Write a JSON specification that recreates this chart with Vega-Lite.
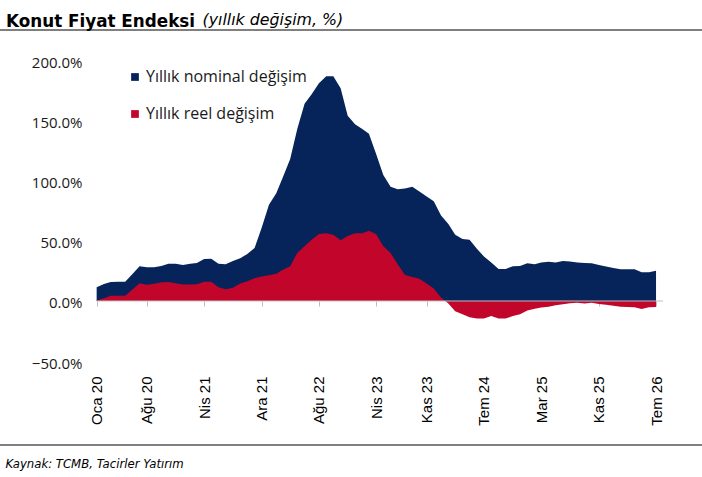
{
  "$schema": "https://vega.github.io/schema/vega-lite/v6.json",
  "width": 702,
  "height": 415,
  "autosize": {"type": "none"},
  "padding": {"left": 0, "top": 30, "right": 0, "bottom": 32},
  "background": "white",
  "title": {"text": "Konut Fiyat Endeksi", "anchor": "start", "frame": "group", "font": "DejaVu Sans", "fontSize": 16.8, "fontWeight": "bold", "color": "#000000", "dx": 6, "offset": -33, "baseline": "alphabetic"},
  "config": {"view": {"stroke": null}, "axis": {"grid": false}},
  "data": {"values": [
    {"ay": "2020-01-01", "nominal": 11.4, "reel": 0.5},
    {"ay": "2020-02-01", "nominal": 14.1, "reel": 2.3},
    {"ay": "2020-03-01", "nominal": 15.8, "reel": 4.3},
    {"ay": "2020-04-01", "nominal": 16.1, "reel": 4.3},
    {"ay": "2020-05-01", "nominal": 16.1, "reel": 4.3},
    {"ay": "2020-06-01", "nominal": 22.5, "reel": 9.5},
    {"ay": "2020-07-01", "nominal": 28.8, "reel": 14.7},
    {"ay": "2020-08-01", "nominal": 28.0, "reel": 13.5},
    {"ay": "2020-09-01", "nominal": 28.0, "reel": 14.3},
    {"ay": "2020-10-01", "nominal": 29.1, "reel": 15.5},
    {"ay": "2020-11-01", "nominal": 31.0, "reel": 15.9},
    {"ay": "2020-12-01", "nominal": 31.0, "reel": 14.8},
    {"ay": "2021-01-01", "nominal": 29.9, "reel": 13.8},
    {"ay": "2021-02-01", "nominal": 31.0, "reel": 13.8},
    {"ay": "2021-03-01", "nominal": 31.6, "reel": 14.0},
    {"ay": "2021-04-01", "nominal": 34.9, "reel": 16.1},
    {"ay": "2021-05-01", "nominal": 35.2, "reel": 16.1},
    {"ay": "2021-06-01", "nominal": 31.0, "reel": 11.5},
    {"ay": "2021-07-01", "nominal": 30.5, "reel": 9.7},
    {"ay": "2021-08-01", "nominal": 33.3, "reel": 11.0},
    {"ay": "2021-09-01", "nominal": 35.5, "reel": 14.5},
    {"ay": "2021-10-01", "nominal": 39.0, "reel": 16.5},
    {"ay": "2021-11-01", "nominal": 44.0, "reel": 19.0},
    {"ay": "2021-12-01", "nominal": 61.0, "reel": 20.3},
    {"ay": "2022-01-01", "nominal": 80.0, "reel": 21.5},
    {"ay": "2022-02-01", "nominal": 89.5, "reel": 22.7},
    {"ay": "2022-03-01", "nominal": 103.0, "reel": 26.0},
    {"ay": "2022-04-01", "nominal": 118.0, "reel": 29.0},
    {"ay": "2022-05-01", "nominal": 143.0, "reel": 40.0},
    {"ay": "2022-06-01", "nominal": 164.0, "reel": 45.5},
    {"ay": "2022-07-01", "nominal": 172.0, "reel": 51.0},
    {"ay": "2022-08-01", "nominal": 181.0, "reel": 55.7},
    {"ay": "2022-09-01", "nominal": 187.0, "reel": 56.3},
    {"ay": "2022-10-01", "nominal": 187.0, "reel": 55.0},
    {"ay": "2022-11-01", "nominal": 177.0, "reel": 50.5},
    {"ay": "2022-12-01", "nominal": 154.0, "reel": 54.0},
    {"ay": "2023-01-01", "nominal": 147.0, "reel": 56.3},
    {"ay": "2023-02-01", "nominal": 143.0, "reel": 56.3},
    {"ay": "2023-03-01", "nominal": 139.0, "reel": 58.5},
    {"ay": "2023-04-01", "nominal": 122.0, "reel": 55.5},
    {"ay": "2023-05-01", "nominal": 104.8, "reel": 45.5},
    {"ay": "2023-06-01", "nominal": 95.0, "reel": 40.0},
    {"ay": "2023-07-01", "nominal": 93.0, "reel": 30.5},
    {"ay": "2023-08-01", "nominal": 93.5, "reel": 21.6},
    {"ay": "2023-09-01", "nominal": 95.0, "reel": 20.0},
    {"ay": "2023-10-01", "nominal": 91.0, "reel": 18.5},
    {"ay": "2023-11-01", "nominal": 87.0, "reel": 14.5},
    {"ay": "2023-12-01", "nominal": 83.0, "reel": 10.3},
    {"ay": "2024-01-01", "nominal": 71.0, "reel": 3.0},
    {"ay": "2024-02-01", "nominal": 64.0, "reel": -2.0},
    {"ay": "2024-03-01", "nominal": 55.0, "reel": -8.5},
    {"ay": "2024-04-01", "nominal": 51.5, "reel": -11.0},
    {"ay": "2024-05-01", "nominal": 51.0, "reel": -13.5},
    {"ay": "2024-06-01", "nominal": 43.5, "reel": -14.5},
    {"ay": "2024-07-01", "nominal": 37.0, "reel": -14.5},
    {"ay": "2024-08-01", "nominal": 32.0, "reel": -12.5},
    {"ay": "2024-09-01", "nominal": 26.6, "reel": -14.5},
    {"ay": "2024-10-01", "nominal": 26.6, "reel": -14.5},
    {"ay": "2024-11-01", "nominal": 29.0, "reel": -12.5},
    {"ay": "2024-12-01", "nominal": 29.2, "reel": -11.0},
    {"ay": "2025-01-01", "nominal": 31.3, "reel": -8.0},
    {"ay": "2025-02-01", "nominal": 30.5, "reel": -6.5},
    {"ay": "2025-03-01", "nominal": 32.0, "reel": -5.5},
    {"ay": "2025-04-01", "nominal": 32.7, "reel": -4.7},
    {"ay": "2025-05-01", "nominal": 32.0, "reel": -3.5},
    {"ay": "2025-06-01", "nominal": 33.3, "reel": -2.8},
    {"ay": "2025-07-01", "nominal": 32.8, "reel": -1.8},
    {"ay": "2025-08-01", "nominal": 32.0, "reel": -1.4},
    {"ay": "2025-09-01", "nominal": 31.6, "reel": -2.0},
    {"ay": "2025-10-01", "nominal": 31.3, "reel": -1.4},
    {"ay": "2025-11-01", "nominal": 30.0, "reel": -2.5},
    {"ay": "2025-12-01", "nominal": 28.7, "reel": -3.2},
    {"ay": "2026-01-01", "nominal": 27.5, "reel": -4.0},
    {"ay": "2026-02-01", "nominal": 26.3, "reel": -4.7},
    {"ay": "2026-03-01", "nominal": 26.3, "reel": -5.0},
    {"ay": "2026-04-01", "nominal": 26.3, "reel": -5.3},
    {"ay": "2026-05-01", "nominal": 24.0, "reel": -6.7},
    {"ay": "2026-06-01", "nominal": 24.0, "reel": -5.2},
    {"ay": "2026-07-01", "nominal": 25.2, "reel": -5.0}
  ]},
  "layer": [
    {
      "mark": {"type": "area", "interpolate": "linear"},
      "encoding": {
        "x": {
          "field": "ay", "type": "temporal",
          "scale": {"type": "utc", "domain": [{"year": 2018, "month": 11, "date": 17, "utc": true}, {"year": 2027, "month": 1, "date": 12, "utc": true}], "nice": false},
          "axis": {
            "orient": "bottom", "offset": -144,
            "values": [
              {"year": 2020, "month": 1, "date": 1, "utc": true},
              {"year": 2020, "month": 8, "date": 1, "utc": true},
              {"year": 2021, "month": 4, "date": 1, "utc": true},
              {"year": 2021, "month": 12, "date": 1, "utc": true},
              {"year": 2022, "month": 8, "date": 1, "utc": true},
              {"year": 2023, "month": 4, "date": 1, "utc": true},
              {"year": 2023, "month": 11, "date": 1, "utc": true},
              {"year": 2024, "month": 7, "date": 1, "utc": true},
              {"year": 2025, "month": 3, "date": 1, "utc": true},
              {"year": 2025, "month": 11, "date": 1, "utc": true},
              {"year": 2026, "month": 7, "date": 1, "utc": true}
            ],
            "labelExpr": "['Oca','Şub','Mar','Nis','May','Haz','Tem','Ağu','Eyl','Eki','Kas','Ara'][utcmonth(datum.value)] + ' ' + utcFormat(datum.value, '%y')",
            "labelAngle": 270, "labelAlign": "right", "labelBaseline": "middle",
            "labelPadding": 70, "labelFont": "Liberation Sans", "labelFontSize": 15, "labelColor": "#000000",
            "labelFlush": false, "labelOverlap": false, "labelBound": false,
            "domain": false, "ticks": true, "tickColor": "#BFBFBF", "tickSize": 5, "tickWidth": 1, "grid": false,
            "title": "Kaynak: TCMB, Tacirler Yatırım", "titleX": 5, "titleY": 162, "titleAnchor": "start", "titleAlign": "left", "titleBaseline": "middle",
            "titleFont": "DejaVu Sans", "titleFontSize": 11.7, "titleFontStyle": "italic", "titleFontWeight": "normal", "titleColor": "#000000"
          }
        },
        "y": {
          "field": "nominal", "type": "quantitative", "stack": null,
          "scale": {"domain": [-119.75, 225.36], "nice": false},
          "axis": {
            "orient": "left", "offset": -96, "values": [-50, 0, 50, 100, 150, 200],
            "labelExpr": "format(datum.value, '.1f') + '%'",
            "domain": false, "ticks": false, "tickSize": 0, "grid": false,
            "labelPadding": 14, "labelFont": "Open Sans", "labelFontSize": 15, "labelColor": "#1a1a1a", "labelOffset": 2,
            "title": "(yıllık değişim, %)", "titleAngle": 0, "titleX": 106, "titleY": -6, "titleAlign": "left", "titleBaseline": "alphabetic",
            "titleFont": "DejaVu Sans", "titleFontSize": 15.8, "titleFontStyle": "italic", "titleFontWeight": "normal", "titleColor": "#000000"
          }
        },
        "color": {
          "datum": "Yıllık nominal değişim",
          "scale": {"domain": ["Yıllık nominal değişim", "Yıllık reel değişim"], "range": ["#062459", "#C1052B"]},
          "legend": {
            "orient": "none", "legendX": 127, "legendY": 39, "direction": "vertical", "title": null,
            "symbolType": "square", "symbolSize": 60, "symbolStrokeWidth": 0, "padding": 0,
            "labelFont": "Open Sans", "labelFontSize": 16, "labelColor": "#1a1a1a", "labelOffset": 3, "labelLimit": 400, "rowPadding": 21
          }
        }
      }
    },
    {
      "mark": {"type": "area", "interpolate": "linear"},
      "encoding": {
        "x": {"field": "ay", "type": "temporal"},
        "y": {"field": "reel", "type": "quantitative", "stack": null},
        "color": {"datum": "Yıllık reel değişim"}
      }
    },
    {
      "data": {"values": [{}]},
      "mark": {"type": "rule", "color": "#BFBFBF", "strokeWidth": 1},
      "encoding": {
        "x": {"datum": {"year": 2020, "month": 1, "date": 1, "utc": true}, "type": "temporal"},
        "x2": {"datum": {"year": 2026, "month": 7, "date": 31, "utc": true}},
        "y": {"datum": 0, "type": "quantitative"}
      }
    },
    {
      "data": {"values": [{}]},
      "mark": {"type": "rule", "color": "#000000", "strokeWidth": 1},
      "encoding": {"y": {"datum": 225.36, "type": "quantitative"}}
    },
    {
      "data": {"values": [{}]},
      "mark": {"type": "rule", "color": "#000000", "strokeWidth": 1},
      "encoding": {"y": {"datum": -119.75, "type": "quantitative"}}
    }
  ]
}
